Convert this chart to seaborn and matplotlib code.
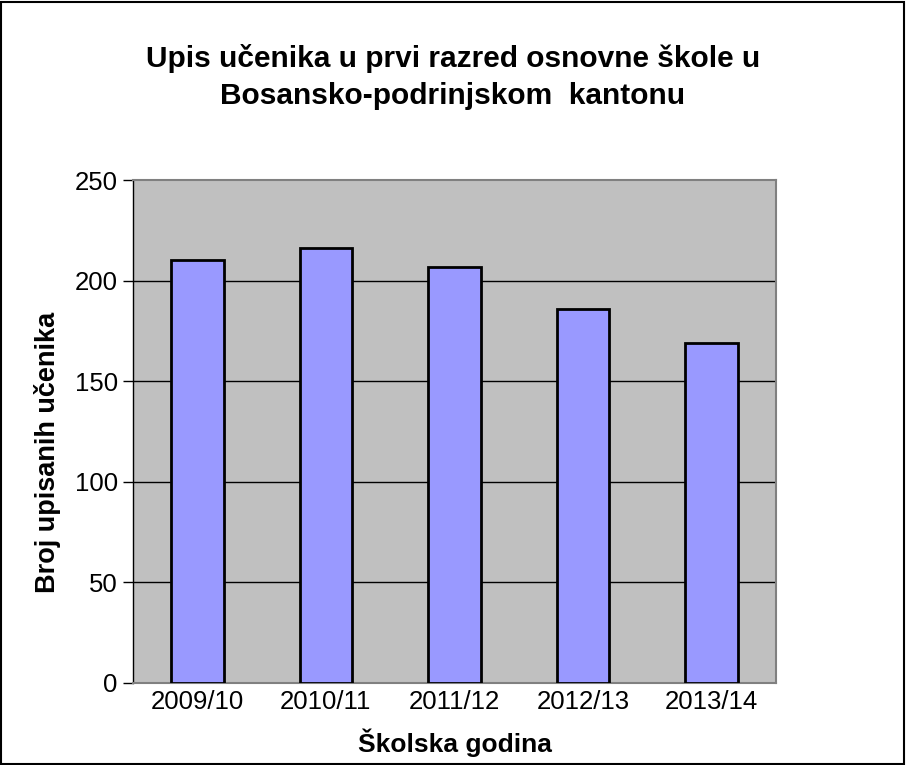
import pandas as pd
import matplotlib.pyplot as plt
import seaborn as sns

years = ['2009/10', '2010/11', '2011/12', '2012/13', '2013/14']
upisani = [210, 216, 207, 186, 169]
y_ticks = [0, 50, 100, 150, 200, 250]

df = pd.DataFrame({'godina': years, 'broj': upisani})

sns.set_style('white')
plt.rcParams['font.family'] = ['Liberation Sans', 'DejaVu Sans']
plt.rcParams['text.color'] = 'black'
plt.rcParams['axes.labelcolor'] = 'black'
plt.rcParams['xtick.color'] = 'black'
plt.rcParams['ytick.color'] = 'black'

fig = plt.figure(figsize=(9.06, 7.65), dpi=100)
ax = fig.add_axes([133 / 906, (765 - 683) / 765, 643 / 906, 503 / 765])

sns.barplot(data=df, x='godina', y='broj', color='#9999FF', width=0.41,
            edgecolor='black', linewidth=2, saturation=1, ax=ax, zorder=3)

ax.set_facecolor('#C0C0C0')
ax.set_ylim(0, 250)
ax.set_yticks(y_ticks)
ax.set_xlim(-0.5, len(years) - 0.5)
for v in y_ticks[1:-1]:
    ax.axhline(v, color='black', linewidth=1, zorder=1)

for side in ['top', 'right', 'bottom']:
    ax.spines[side].set_color('#808080')
    ax.spines[side].set_linewidth(1.5)
ax.spines['left'].set_color('black')
ax.spines['left'].set_linewidth(1)

ax.tick_params(axis='y', direction='out', length=7, width=1, color='black',
               labelsize=18.5, pad=4, left=True)
ax.tick_params(axis='x', length=0, labelsize=18.5, pad=5)

ax.set_xlabel('Školska godina', fontsize=19, fontweight='bold')
ax.xaxis.set_label_coords(0.5, -(743 - 683) / 503)
ax.set_ylabel('Broj upisanih učenika', fontsize=19.5, fontweight='bold')
ax.yaxis.set_label_coords(-(133 - 47) / 643, (683 - 452) / 503)
ax.xaxis.label.set_va('center')
ax.yaxis.label.set_va('center')

fig.text(0.5, 1 - 77 / 765, 'Upis učenika u prvi razred osnovne škole u\nBosansko-podrinjskom  kantonu',
         ha='center', va='center', fontsize=21.5, fontweight='bold', linespacing=1.42)

border = plt.Rectangle((0.001, 0.001), 0.997, 0.997, transform=fig.transFigure,
                       fill=False, edgecolor='black', linewidth=1.5)
fig.patches.append(border)

fig.savefig('out.png', dpi=100)
